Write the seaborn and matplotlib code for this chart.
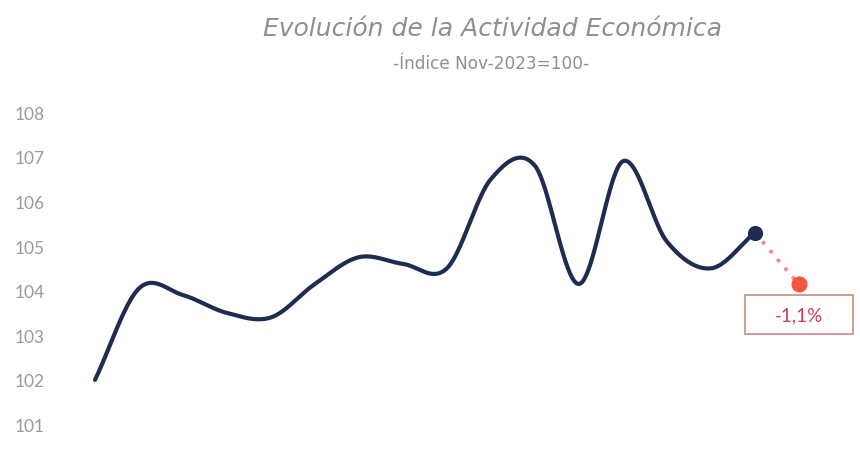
import matplotlib
matplotlib.use("Agg")
import matplotlib.pyplot as plt
import matplotlib.patches as mpatches
import seaborn as sns
import numpy as np
import pandas as pd

# Activity index (Nov-2023 = 100), monthly values
meses = list(range(16))
actividad = [102.0, 104.05, 103.9, 103.5, 103.4, 104.15, 104.75, 104.6,
             104.5, 106.5, 106.8, 104.15, 106.9, 105.1, 104.5, 105.3]
# next-month estimate and its change vs. last value
mes_proy = 16
proyeccion = 104.14
variacion = "-1,1%"
y_ticks = [100, 101, 102, 103, 104, 105, 106, 107, 108]

NAVY = "#1e2c52"
RED = "#f4553f"
GRAY = "#8f8f8f"


def smooth_curve(x, y, n=40):
    """Cardinal (Catmull-Rom) spline through the points, like a 'smoothed line' chart"""
    x = np.asarray(x, float)
    y = np.asarray(y, float)
    m = np.empty_like(y)
    m[1:-1] = (y[2:] - y[:-2]) / 2
    m[0] = y[1] - y[0]
    m[-1] = y[-1] - y[-2]
    t = np.linspace(0, 1, n, endpoint=False)
    h00 = 2 * t**3 - 3 * t**2 + 1
    h10 = t**3 - 2 * t**2 + t
    h01 = -2 * t**3 + 3 * t**2
    h11 = t**3 - t**2
    xs, ys = [], []
    for i in range(len(y) - 1):
        xs.append(x[i] + t * (x[i + 1] - x[i]))
        ys.append(h00 * y[i] + h10 * m[i] + h01 * y[i + 1] + h11 * m[i + 1])
    xs.append([x[-1]])
    ys.append([y[-1]])
    return np.concatenate(xs), np.concatenate(ys)


sns.set_theme(style="white")
plt.rcParams['font.family'] = ['Lato', 'DejaVu Sans']

fig = plt.figure(figsize=(8.6, 4.6), dpi=100)
ax = fig.add_axes([50 / 860, -0.022, 810 / 860, 0.776])

sx, sy = smooth_curve(meses, actividad)
curve = pd.DataFrame({'mes': sx, 'indice': sy})
sns.lineplot(data=curve, x='mes', y='indice', ax=ax, color=NAVY, linewidth=3.0,
             sort=False, estimator=None)

# dotted projection segment
sns.lineplot(x=[meses[-1], mes_proy], y=[actividad[-1], proyeccion], ax=ax,
             color="#ef8a7e", linewidth=2.6, linestyle=(0, (1, 2.2)),
             estimator=None)
ax.scatter([meses[-1]], [actividad[-1]], s=120, color=NAVY, zorder=5, linewidths=0)
ax.scatter([mes_proy], [proyeccion], s=135, color=RED, zorder=5, linewidths=0)

# label box under the projected point
box = mpatches.Rectangle((mes_proy - 1.23, proyeccion - 1.12), 2.46, 0.88,
                         facecolor='white', edgecolor='#c98a84', linewidth=1.2, zorder=4)
ax.add_patch(box)
ax.text(mes_proy, proyeccion - 0.68, variacion, ha='center', va='center',
        fontsize=13.5, color='#c8404f', zorder=6)

ax.set_xlim(-1.023, 17.39)
ax.set_ylim(100, 108)
ax.set_yticks(y_ticks)
ax.set_xticks([])
ax.set_xlabel('')
ax.set_ylabel('')
ax.tick_params(axis='y', length=0, pad=3.6, labelcolor='#9a9a9a', labelsize=12.5)
sns.despine(ax=ax, left=True, bottom=True)
ax.grid(False)

fig.text(0.573, 1 - 29 / 460, 'Evolución de la Actividad Económica', ha='center',
         va='center', fontsize=18, style='italic', color=GRAY,
         family=['DejaVu Sans'])
fig.text(0.571, 1 - 64 / 460, '-Índice Nov-2023=100-', ha='center', va='center',
         fontsize=12.2, color=GRAY, family=['DejaVu Sans'])

fig.savefig('out.png', dpi=100)
